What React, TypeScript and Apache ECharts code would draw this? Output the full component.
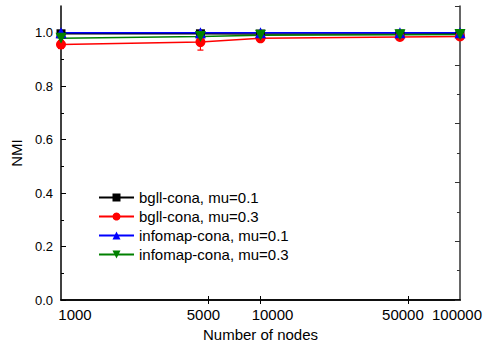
import React, { useEffect, useRef } from "react";
import * as echarts from "echarts";

const nodes = [1000, 5000, 10000, 50000, 100000];
const seriesNames = [
  "bgll-cona, mu=0.1",
  "bgll-cona, mu=0.3",
  "infomap-cona, mu=0.1",
  "infomap-cona, mu=0.3",
];
const bgll01 = [0.996, 0.996, 0.995, 0.995, 0.996];
const bgll03 = [0.956, 0.965, 0.979, 0.984, 0.986];
const bgll03Err = [0.015, 0.03, 0.005, 0.004, 0.004];
const infomap01 = [1.0, 1.0, 1.0, 1.0, 1.0];
const infomap03 = [0.979, 0.986, 0.991, 0.992, 0.993];
const yTickLabels = [0, 0.2, 0.4, 0.6, 0.8, 1.0];
const xTickMarks = [5500, 10000, 55000];

const FONT = "Liberation Sans, Arial, sans-serif";

export default function App() {
  const ref = useRef<HTMLDivElement>(null);
  useEffect(() => {
    if (!ref.current) return;
    const chart = echarts.init(ref.current, null, { renderer: "svg" });
    const lx = nodes.map((n) => Math.log10(n));
    const xmin = lx[0];
    const xmax = lx[lx.length - 1];
    const pts = (vals: number[]) => vals.map((v, i) => [lx[i], v]);
    const labelShift: Record<string, number> = {
      "1000": 14,
      "5000": 3,
      "10000": 12,
      "50000": 3,
      "100000": -3,
    };
    const rich: Record<string, any> = {};
    Object.keys(labelShift).forEach((k) => {
      const s = labelShift[k];
      rich["l" + k] = {
        fontSize: 15,
        fontFamily: FONT,
        color: "#000",
        padding: s >= 0 ? [0, 0, 0, 2 * s] : [0, -2 * s, 0, 0],
      };
    });
    const colors = ["#000000", "#ff0000", "#0000ff", "#008000"];
    const mk = (i: number, vals: number[], symbol: string, size: number, rot = 0) => ({
      type: "line" as const,
      name: seriesNames[i],
      clip: false,
      symbol,
      symbolSize: size,
      symbolRotate: rot,
      itemStyle: { color: colors[i] },
      lineStyle: { width: 1.5, color: colors[i] },
      z: 3,
      data: pts(vals),
    });
    chart.setOption({
      animation: false,
      textStyle: { fontFamily: FONT },
      grid: { left: 61, right: 23, top: 6, bottom: 45 },
      legend: {
        orient: "vertical",
        left: 98,
        top: 190,
        padding: 0,
        itemWidth: 35,
        itemHeight: 10,
        itemGap: 4,
        textStyle: { fontSize: 15, fontFamily: FONT, color: "#000" },
        data: seriesNames,
      },
      xAxis: [
        {
          type: "value",
          min: xmin,
          max: xmax,
          position: "bottom",
          name: "Number of nodes",
          nameLocation: "middle",
          nameGap: 27,
          nameTextStyle: { fontSize: 15, fontFamily: FONT, color: "#000" },
          splitLine: { show: false },
          axisLine: { lineStyle: { color: "#000", width: 1.5 } },
          axisTick: {
            inside: true,
            length: 4,
            lineStyle: { color: "#000" },
            customValues: xTickMarks.map((n) => Math.log10(n)),
          },
          axisLabel: {
            margin: 7,
            customValues: lx,
            formatter: (v: number) => {
              const n = String(Math.round(Math.pow(10, v)));
              return "{l" + n + "|" + n + "}";
            },
            rich,
          },
        },
        {
          type: "value",
          min: xmin,
          max: xmax,
          position: "top",
          splitLine: { show: false },
          axisLine: { lineStyle: { color: "#000", width: 1.5 } },
          axisTick: {
            inside: true,
            length: 4,
            lineStyle: { color: "#000" },
            customValues: xTickMarks.map((n) => Math.log10(n)),
          },
          axisLabel: { show: false },
        },
      ],
      yAxis: [
        {
          type: "value",
          min: 0,
          max: 1.1,
          interval: 0.2,
          position: "left",
          name: "NMI",
          nameLocation: "middle",
          nameGap: 37,
          nameTextStyle: { fontSize: 15, fontFamily: FONT, color: "#000" },
          splitLine: { show: false },
          axisLine: { lineStyle: { color: "#000", width: 1.5 } },
          axisTick: {
            inside: true,
            length: 5,
            lineStyle: { color: "#000" },
            customValues: yTickLabels,
          },
          minorTick: { show: true, splitNumber: 2, length: 3, lineStyle: { color: "#000" } },
          axisLabel: {
            margin: 8,
            fontSize: 13,
            fontFamily: FONT,
            color: "#000",
            customValues: yTickLabels,
            formatter: (v: number) => v.toFixed(1),
          },
        },
        {
          type: "value",
          min: 0,
          max: 1,
          interval: 0.2,
          position: "right",
          splitLine: { show: false },
          axisLine: { show: true, lineStyle: { color: "#333", width: 1.5 } },
          axisTick: { show: true, inside: true, length: 5, lineStyle: { color: "#333" } },
          minorTick: { show: true, splitNumber: 2, length: 3, lineStyle: { color: "#333" } },
          axisLabel: { show: false },
        },
      ],
      series: [
        mk(0, bgll01, "rect", 9),
        mk(1, bgll03, "circle", 10),
        {
          type: "custom",
          name: "err",
          clip: false,
          z: 2,
          data: bgll03.map((v, i) => [lx[i], v - bgll03Err[i], v + bgll03Err[i]]),
          renderItem: (params: any, api: any) => {
            const x = api.value(0);
            const lo = api.coord([x, api.value(1)]);
            const hi = api.coord([x, api.value(2)]);
            const w = 3;
            const st = { stroke: "#ff0000", lineWidth: 1.2 };
            return {
              type: "group",
              children: [
                { type: "line", shape: { x1: lo[0], y1: lo[1], x2: hi[0], y2: hi[1] }, style: st },
                { type: "line", shape: { x1: lo[0] - w, y1: lo[1], x2: lo[0] + w, y2: lo[1] }, style: st },
                { type: "line", shape: { x1: hi[0] - w, y1: hi[1], x2: hi[0] + w, y2: hi[1] }, style: st },
              ],
            };
          },
        },
        mk(2, infomap01, "triangle", 11),
        mk(3, infomap03, "triangle", 11, 180),
      ],
    });
    return () => chart.dispose();
  }, []);
  return (
    <div
      ref={ref}
      style={{ position: "absolute", left: 0, top: 0, width: 485, height: 347, background: "#fff" }}
    />
  );
}
